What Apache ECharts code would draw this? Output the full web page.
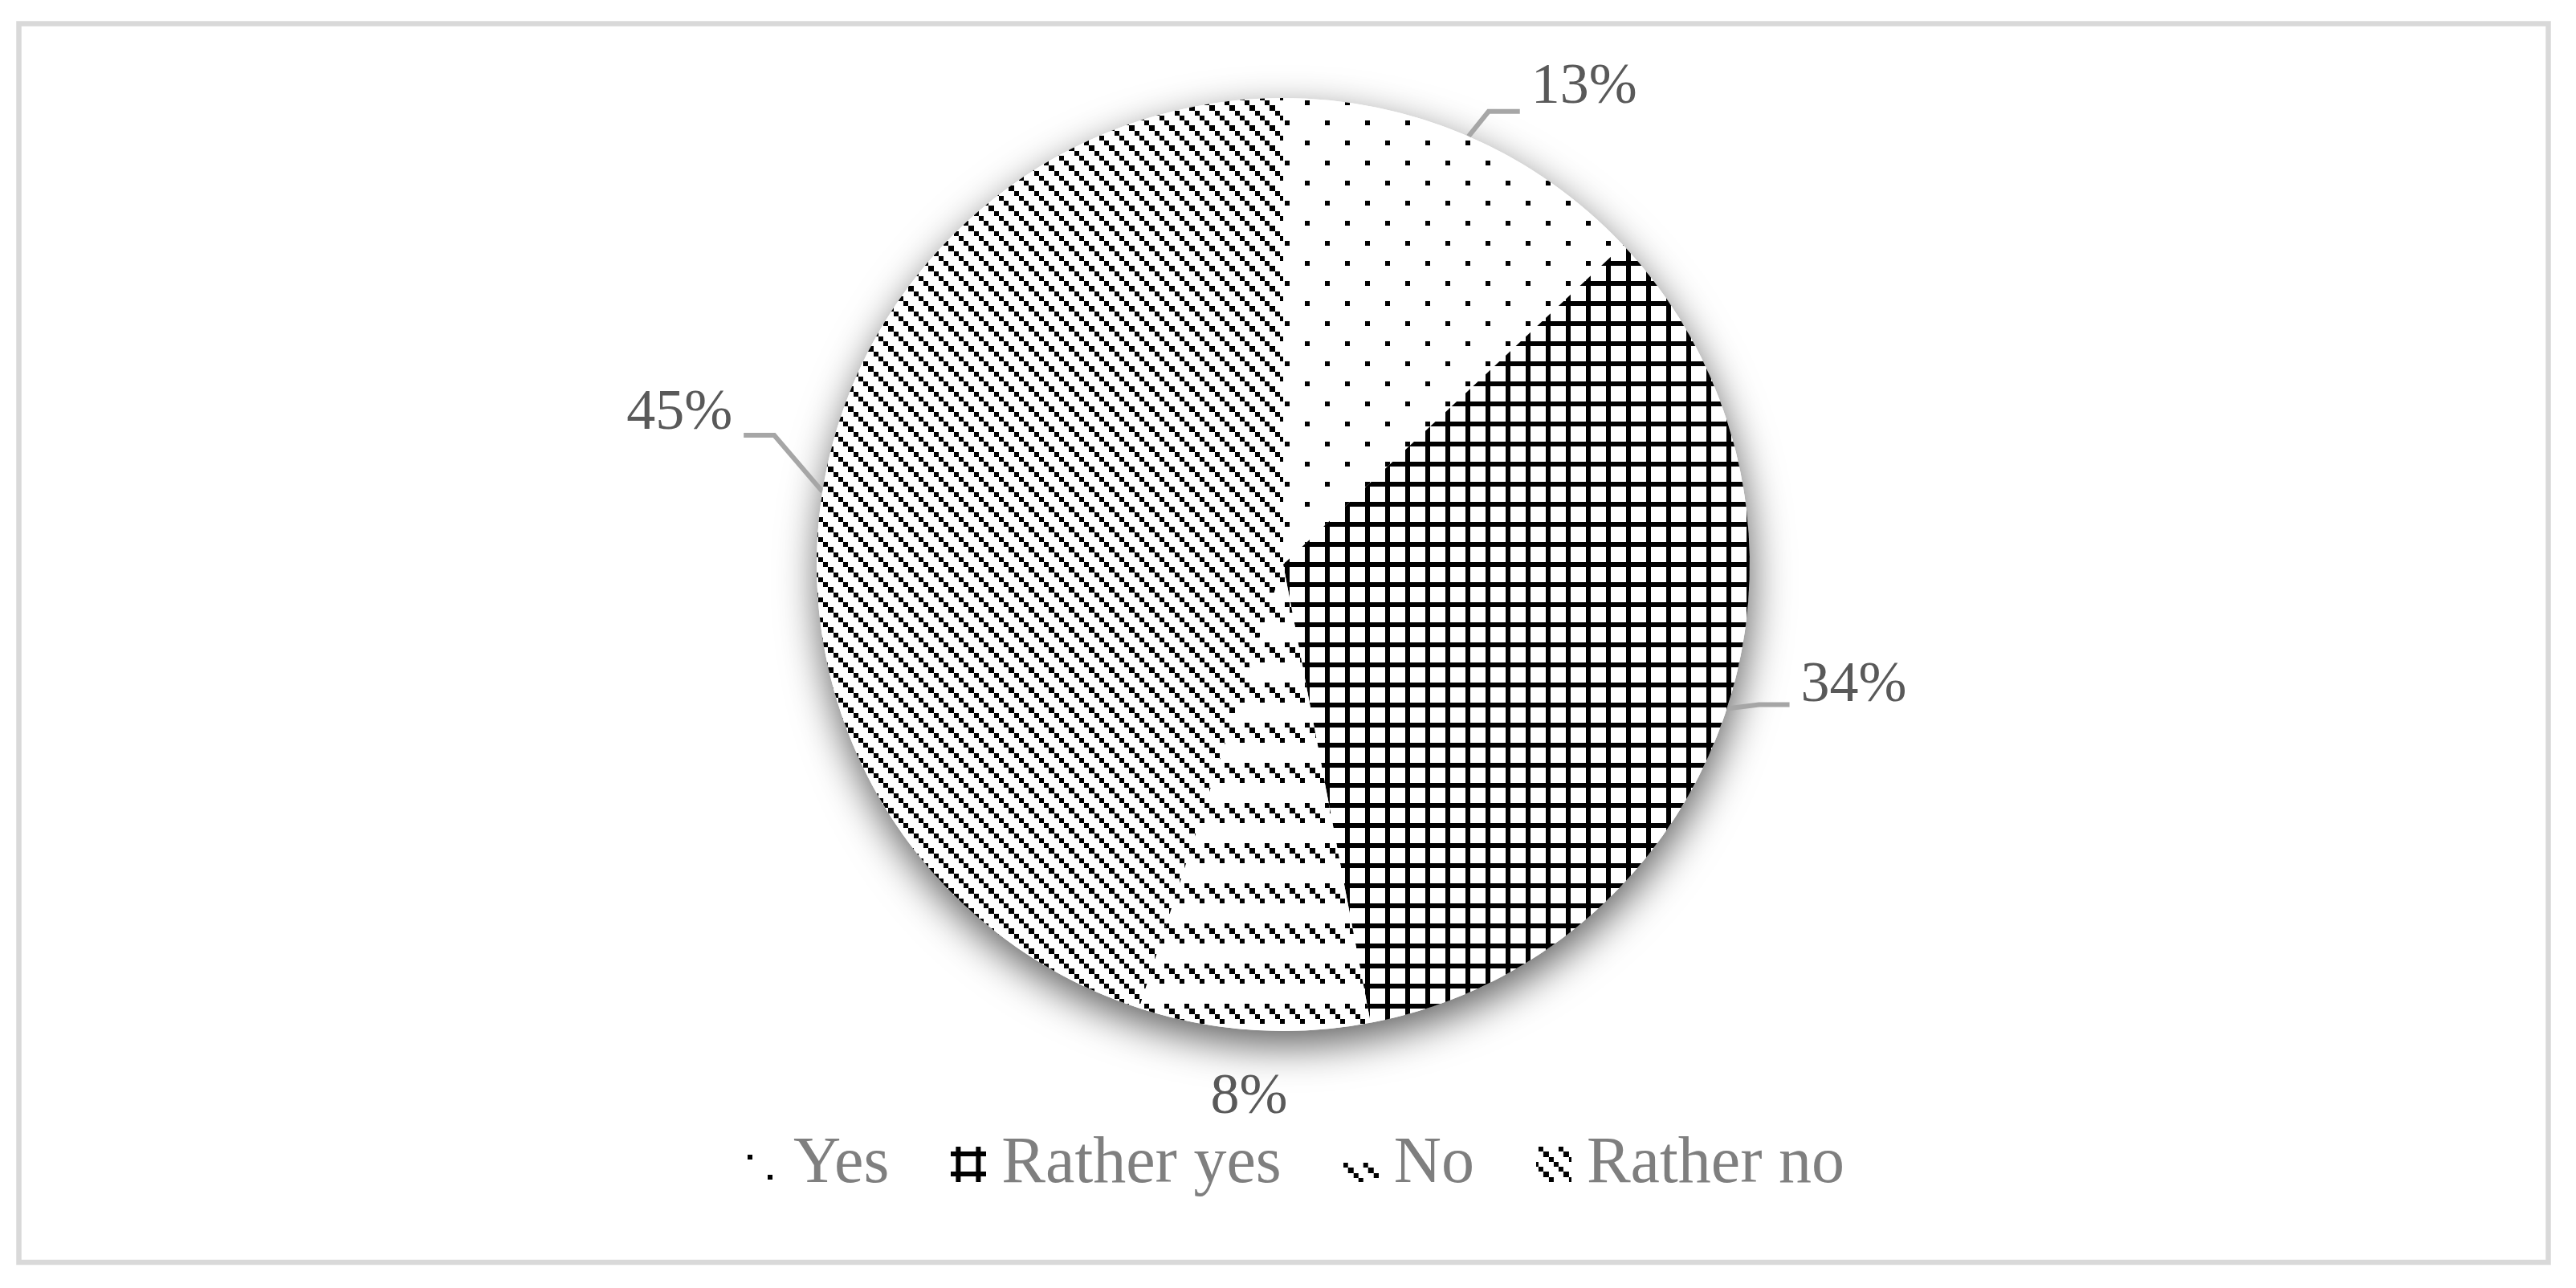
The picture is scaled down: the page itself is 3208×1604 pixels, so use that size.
<!DOCTYPE html>
<html>
<head>
<meta charset="utf-8">
<script src="https://cdn.jsdelivr.net/npm/echarts@6/dist/echarts.min.js"></script>
<style>
html,body{margin:0;padding:0;background:#fff;}
#chart{width:3208px;height:1604px;}
</style>
</head>
<body>
<div id="chart"></div>
<script>
// ---- data ----
const categories = ['Yes', 'Rather yes', 'No', 'Rather no'];
const shares = [13, 34, 8, 45];

// ---- layout / style constants ----
const CX = 1598, CY = 703, R = 581;
const FONT = '"Liberation Serif", "Times New Roman", serif';

// Excel-like 8x8 hatch bitmaps, each bitmap pixel rendered 6.25px
const hatchTests = [
  (x, y) => (x === 0 && y === 0) || (x === 4 && y === 4),          // dotted
  (x, y) => x % 4 === 0 || y % 4 === 0,                            // small grid
  (x, y) => y < 4 && ((x - y) % 4 + 4) % 4 === 0,                  // dashed downward diagonal
  (x, y) => ((x - y) % 4 + 4) % 4 === 0                            // light downward diagonal
];
function drawHatch(g, test, w, h, ox, oy) {
  const px = 6.25, n = 8;
  g.fillStyle = '#ffffff';
  g.fillRect(0, 0, w, h);
  g.fillStyle = '#000000';
  for (let ty = -50; ty < h + 50; ty += 50) {
    for (let tx = -50; tx < w + 50; tx += 50) {
      for (let y = 0; y < n; y++) {
        for (let x = 0; x < n; x++) {
          if (test(x, y)) {
            const x0 = Math.round(x * px) + tx + ox, y0 = Math.round(y * px) + ty + oy;
            const x1 = Math.round((x + 1) * px) + tx + ox, y1 = Math.round((y + 1) * px) + ty + oy;
            g.fillRect(x0, y0, x1 - x0, y1 - y0);
          }
        }
      }
    }
  }
}
function makePattern(test) {
  const c = document.createElement('canvas');
  c.width = 50; c.height = 50;
  drawHatch(c.getContext('2d'), test, 50, 50, 0, 0);
  return { image: c, repeat: 'repeat' };
}
function makeIcon(test, ox, oy) {
  const c = document.createElement('canvas');
  c.width = 44; c.height = 44;
  const g = c.getContext('2d');
  drawHatch(g, test, 44, 44, ox, oy);
  const img = g.getImageData(0, 0, 44, 44);
  for (let k = 0; k < img.data.length; k += 4) {
    if (img.data[k] > 128) img.data[k + 3] = 0;
  }
  g.putImageData(img, 0, 0);
  return 'image://' + c.toDataURL('image/png');
}
const patterns = hatchTests.map(t => makePattern(t));
const iconOffsets = [[6, 10], [6, 6], [0, 20], [3, 0]];
const icons = hatchTests.map((t, i) => makeIcon(t, iconOffsets[i][0], iconOffsets[i][1]));

// label leader geometry (relative to the slice's outer edge point)
const leaders = [
  { bend: [25, -31], run: 39, dy: -30 },
  { bend: [40, -5], run: 38, dy: -23 },
  null,
  { bend: [-60, -70], run: -38, dy: -27 }
];
const noLineOffset = [-6, 84];

function edgePoint(i) {
  const total = shares.reduce((a, b) => a + b, 0);
  let before = 0;
  for (let k = 0; k < i; k++) before += shares[k];
  const ang = (before + shares[i] / 2) / total * 2 * Math.PI;
  return [CX + R * Math.sin(ang), CY - R * Math.cos(ang)];
}

const chart = echarts.init(document.getElementById('chart'), null, { renderer: 'canvas' });

const option = {
  backgroundColor: '#ffffff',
  animation: false,
  graphic: [{
    type: 'rect',
    shape: { x: 23.5, y: 29.5, width: 3150, height: 1542.5 },
    style: { fill: 'none', stroke: '#d9d9d9', lineWidth: 6.5 },
    silent: true, z: 0
  }],
  legend: {
    data: categories.map((name, i) => ({ name: name, icon: icons[i] })),
    left: 925,
    top: 1400,
    padding: [5, 0, 5, 0],
    itemWidth: 44,
    itemHeight: 44,
    itemGap: 77,
    selectedMode: false,
    textStyle: {
      fontFamily: FONT, fontSize: 82, color: '#7f7f7f',
      lineHeight: 90, padding: [0, 0, 0, 14]
    }
  },
  series: [
    {
      type: 'pie',
      silent: true,
      z: 1,
      center: [CX, CY],
      radius: R,
      data: [{ value: 1, name: '__bg' }],
      label: { show: false },
      labelLine: { show: false },
      itemStyle: {
        color: '#ffffff', borderWidth: 0,
        shadowBlur: 50, shadowOffsetY: 18, shadowOffsetX: 2,
        shadowColor: 'rgba(0,0,0,0.62)'
      },
      emphasis: { disabled: true }
    },
    {
      type: 'pie',
      z: 2,
      center: [CX, CY],
      radius: R,
      startAngle: 90,
      clockwise: true,
      avoidLabelOverlap: false,
      emphasis: { disabled: true },
      itemStyle: { borderWidth: 0 },
      data: categories.map((name, i) => ({
        name: name,
        value: shares[i],
        itemStyle: { color: patterns[i], borderWidth: 0 },
        labelLine: { show: leaders[i] !== null }
      })),
      label: {
        show: true,
        position: 'outside',
        formatter: p => p.value + '%',
        fontFamily: FONT,
        fontSize: 72,
        color: '#595959'
      },
      labelLine: {
        show: true,
        smooth: false,
        lineStyle: { color: '#a6a6a6', width: 6 }
      },
      labelLayout: function (p) {
        if (p.seriesIndex !== 1) return {};
        const i = p.dataIndex;
        const e = edgePoint(i);
        const L = leaders[i];
        if (!L) {
          return { x: e[0] + noLineOffset[0], y: e[1] + noLineOffset[1], align: 'center', verticalAlign: 'middle' };
        }
        const b = [e[0] + L.bend[0], e[1] + L.bend[1]];
        const end = [b[0] + L.run, b[1]];
        const gap = 14;
        const right = L.run > 0;
        return {
          x: end[0] + (right ? gap : -gap),
          y: end[1] + L.dy,
          align: right ? 'left' : 'right',
          verticalAlign: 'middle',
          labelLinePoints: [e, b, end]
        };
      }
    }
  ]
};
chart.setOption(option);
</script>
</body>
</html>
